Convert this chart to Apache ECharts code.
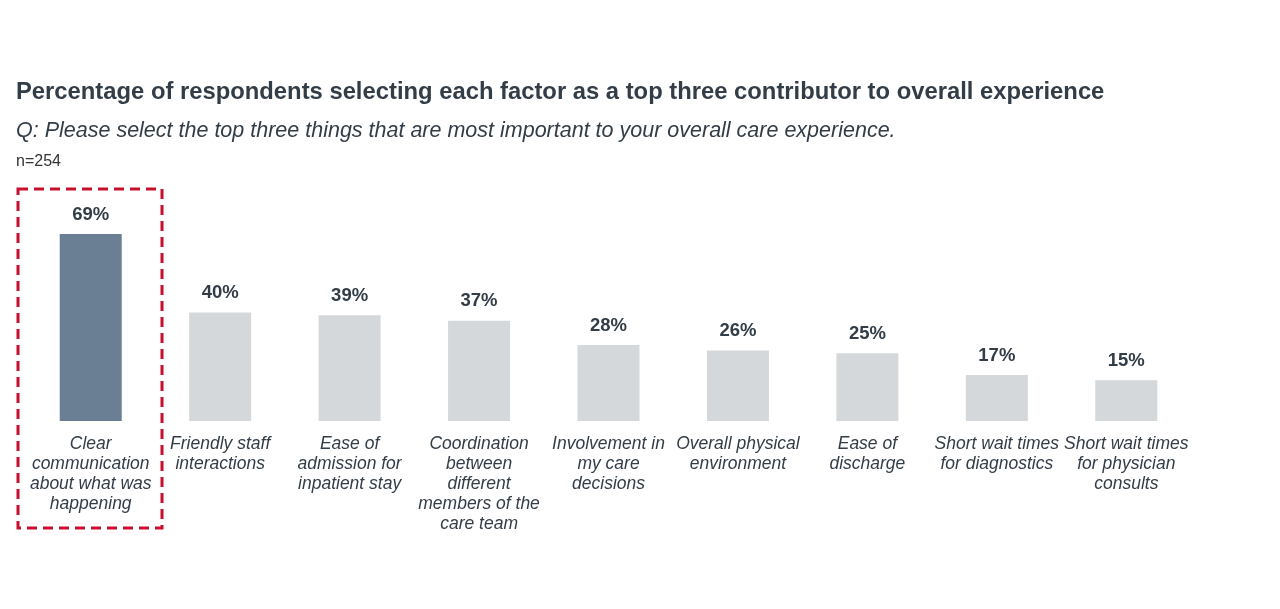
<!DOCTYPE html>
<html><head><meta charset="utf-8">
<script src="https://cdn.jsdelivr.net/npm/echarts@6/dist/echarts.min.js"></script>
<style>html,body{margin:0;padding:0;background:#fff}#c{width:1280px;height:609px}</style>
</head><body><div id="c"></div>
<script>
const categories = ["Clear\ncommunication\nabout what was\nhappening","Friendly staff\ninteractions","Ease of\nadmission for\ninpatient stay","Coordination\nbetween\ndifferent\nmembers of the\ncare team","Involvement in\nmy care\ndecisions","Overall physical\nenvironment","Ease of\ndischarge","Short wait times\nfor diagnostics","Short wait times\nfor physician\nconsults"];
const values = [69,40,39,37,28,26,25,17,15];
const chart = echarts.init(document.getElementById('c'));
chart.setOption({
  animation:false,
  textStyle:{fontFamily:'Liberation Sans, Arial, sans-serif'},
  title:[
    {text:'Percentage of respondents selecting each factor as a top three contributor to overall experience',left:16,top:80,padding:0,textStyle:{fontSize:23.8,fontWeight:'bold',color:'#333d47'}},
    {text:'Q: Please select the top three things that are most important to your overall care experience.',left:16,top:120,padding:0,textStyle:{fontSize:21.5,fontStyle:'italic',fontWeight:'normal',color:'#333d47'}},
    {text:'n=254',left:16,top:154,padding:0,textStyle:{fontSize:16,fontWeight:'normal',color:'#333'}}
  ],
  grid:{left:26,right:89,top:150,height:271},
  xAxis:{type:'category',data:categories,axisLine:{show:false},axisTick:{show:false},
    axisLabel:{interval:0,margin:13,fontSize:17.5,fontStyle:'italic',color:'#333d47',lineHeight:20,overflow:'none'}},
  yAxis:{type:'value',min:0,max:100,show:false,splitLine:{show:false}},
  series:[{type:'bar',barWidth:62,data:values.map((v,i)=>({value:v,itemStyle:{color:i===0?'#6a7f93':'#d5d8da'}})),
    label:{show:true,position:'top',distance:10,formatter:'{c}%',fontSize:18.5,fontWeight:'bold',color:'#333d47'}}],
  graphic:[{type:'rect',shape:{x:18,y:189,width:144,height:339},style:{fill:'none',stroke:'#c8102e',lineWidth:3,lineDash:[10,6]}}]
});
</script></body></html>
